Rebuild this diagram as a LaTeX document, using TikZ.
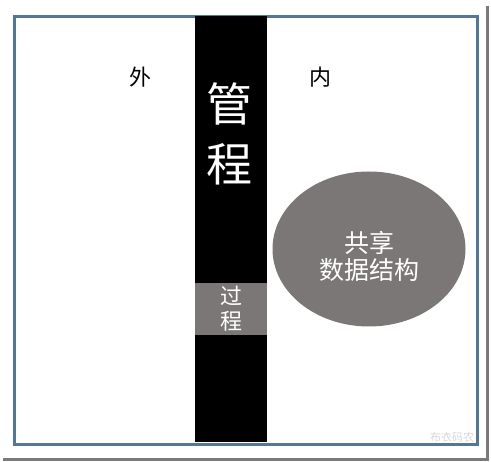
\documentclass[tikz,border=0pt]{standalone}
\usepackage{fontspec}
\newfontfamily\cjk{Noto Sans CJK SC}
\usetikzlibrary{shapes.geometric}
\definecolor{frameblue}{HTML}{52779A}
\definecolor{procgray}{HTML}{7A7776}
\definecolor{shadowgray}{HTML}{7A7A7A}
\tikzset{
  lbl/.style={font=\cjk\fontsize{22}{26}\selectfont, inner sep=0pt},
  wlbl/.style={lbl, text=white},
  dlbl/.style={font=\cjk\fontsize{25}{29}\selectfont, text=white, inner sep=0pt},
  big/.style={font=\cjk\fontsize{46}{52}\selectfont, text=white, inner sep=0pt},
}
\begin{document}
\begin{tikzpicture}[x=1pt,y=-1pt]
\useasboundingbox (0,0) rectangle (491,462);
% shadow
\draw[shadowgray, line width=3pt] (487,6) -- (487,460) -- (3,460);
% frame
\node[draw=frameblue, line width=2.8pt, fill=white, minimum width=463pt, minimum height=428pt, inner sep=0pt, anchor=north west] (frame) at (13,15) {};
% monitor bar
\fill[black] (195,16) rectangle (267,442);
\node[fill=procgray, minimum width=72pt, minimum height=52pt, inner sep=0pt, anchor=north west] (proc) at (195,283) {};
\node[wlbl, align=center] (proctxt) at (231,309) {过\\[-1pt]程};
% labels
\node[lbl] (out) at (140,77) {外};
\node[lbl] (in) at (320,77) {内};
\node[big] (g1) at (229,104) {管};
\node[big] (g2) at (229,164) {程};
% shared data
\node[ellipse, fill=procgray, minimum width=193pt, minimum height=155pt, inner sep=0pt] (data) at (369,249) {};
\node[dlbl, align=center] (datatxt) at (369,256) {共享\\[-2pt]数据结构};
% watermark
\node[font=\cjk\fontsize{11}{13}\selectfont, text=white!70!gray, inner sep=0pt] (wm) at (452,437) {布衣码农};
\end{tikzpicture}
\end{document}
